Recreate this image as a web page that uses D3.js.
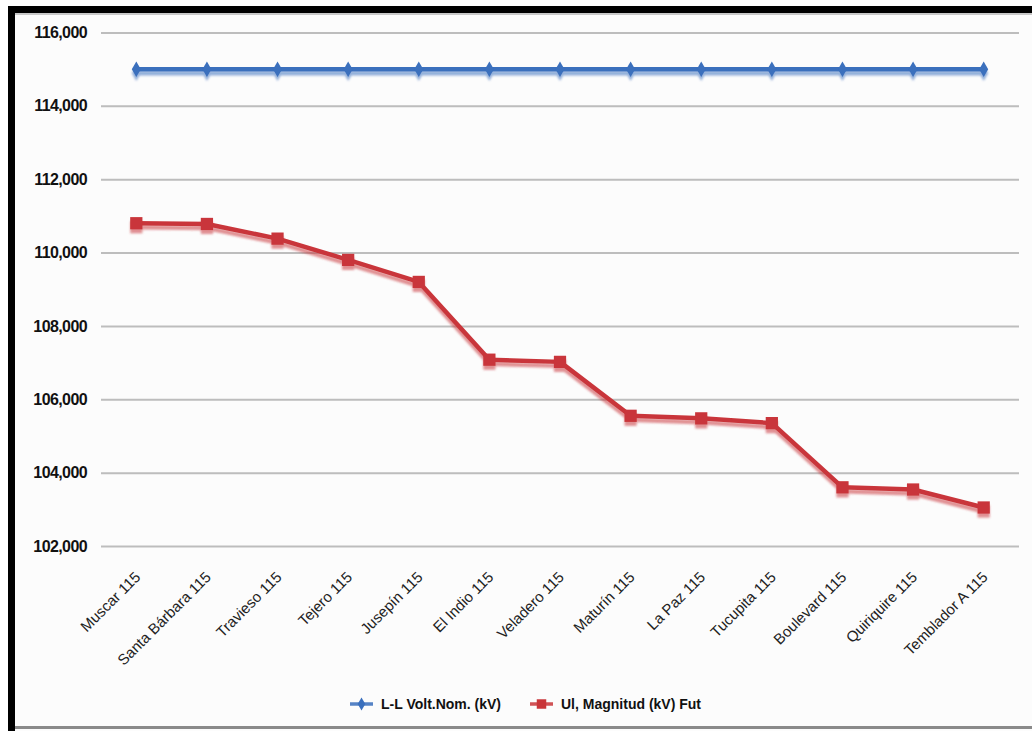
<!DOCTYPE html>
<html>
<head>
<meta charset="utf-8">
<script src="https://cdn.jsdelivr.net/npm/d3@7"></script>
<style>
  html, body { margin: 0; padding: 0; background: #ffffff; }
  svg { display: block; }
</style>
</head>
<body>
<svg id="chart" width="1032" height="731"></svg>
<script>
// Substations along the 115 kV corridor
const categories = [
  "Muscar 115", "Santa Bárbara 115", "Travieso 115", "Tejero 115", "Jusepín 115",
  "El Indio 115", "Veladero 115", "Maturín 115", "La Paz 115", "Tucupita 115",
  "Boulevard 115", "Quiriquire 115", "Temblador A 115"
];
// Nominal line-to-line voltage
const nominalKV = [115000, 115000, 115000, 115000, 115000, 115000, 115000,
                   115000, 115000, 115000, 115000, 115000, 115000];
// Future voltage magnitude
const futureKV = [110800, 110780, 110380, 109800, 109200, 107080, 107020,
                  105550, 105480, 105350, 103600, 103540, 103050];
const yTicks = [102000, 104000, 106000, 108000, 110000, 112000, 114000, 116000];
const seriesNames = ["L-L Volt.Nom. (kV)", "Ul, Magnitud (kV) Fut"];

const svg = d3.select("#chart");
const W = 1032, H = 731;

// Frame: panel with heavy dark border on top and left
svg.append("rect").attr("x", 8).attr("y", 6).attr("width", W - 8).attr("height", H - 6)
  .attr("fill", "#fcfcfc");
svg.append("rect").attr("x", 8).attr("y", 726).attr("width", W - 8).attr("height", 3)
  .attr("fill", "#8a8a8a");
svg.append("rect").attr("x", 15).attr("y", 13).attr("width", W - 15).attr("height", 2)
  .attr("fill", "#c8c8c8");
svg.append("rect").attr("x", 8).attr("y", 6).attr("width", W - 8).attr("height", 7)
  .attr("fill", "#000");
svg.append("rect").attr("x", 8).attr("y", 6).attr("width", 7).attr("height", H - 6)
  .attr("fill", "#000");

const plot = { left: 101, right: 1019, top: 32.5, bottom: 546 };

const x = d3.scaleBand().domain(categories).range([plot.left, plot.right]);
const y = d3.scaleLinear().domain([102000, 116000]).range([plot.bottom, plot.top]);
const cx = d => x(d) + x.bandwidth() / 2;

// Soft, coloured shadow offset below each series
const defs = svg.append("defs");
const f = defs.append("filter").attr("id", "shadow")
  .attr("x", "-10%").attr("y", "-30%").attr("width", "120%").attr("height", "180%");
f.append("feGaussianBlur").attr("in", "SourceGraphic").attr("stdDeviation", 1.3).attr("result", "b");
f.append("feOffset").attr("in", "b").attr("dx", 0).attr("dy", 4).attr("result", "o");
f.append("feComponentTransfer").attr("in", "o").attr("result", "s")
  .append("feFuncA").attr("type", "linear").attr("slope", 0.55);
const fm = f.append("feMerge");
fm.append("feMergeNode").attr("in", "s");
fm.append("feMergeNode").attr("in", "SourceGraphic");

// Gridlines and value labels
const yAxis = d3.axisLeft(y).tickValues(yTicks)
  .tickSize(-(plot.right - plot.left)).tickPadding(14)
  .tickFormat(d3.format(","));
const gy = svg.append("g").attr("transform", `translate(${plot.left},0)`).call(yAxis);
gy.select(".domain").remove();
gy.selectAll(".tick line").attr("stroke", "#bdbdbd").attr("stroke-width", 2);
gy.selectAll(".tick text")
  .attr("font-family", "'Liberation Sans', Arial, sans-serif")
  .attr("font-weight", "bold").attr("font-size", 16).attr("fill", "#111")
  .attr("letter-spacing", -0.6).attr("x", -14);

// Category labels, rotated
const xAxis = d3.axisBottom(x).tickSize(0).tickPadding(0);
const gx = svg.append("g").attr("transform", `translate(0,${plot.bottom})`).call(xAxis);
gx.select(".domain").remove();
gx.selectAll(".tick text")
  .attr("font-family", "'Liberation Sans', Arial, sans-serif")
  .attr("font-size", 15).attr("fill", "#222")
  .attr("text-anchor", "end").attr("dy", 0).attr("y", 0)
  .attr("transform", "translate(5,32) rotate(-45)");

const line = d3.line().x((d, i) => cx(categories[i])).y(d => y(d));

const series = [
  { name: seriesNames[0], values: nominalKV, color: "#3a6fbd", marker: "diamond" },
  { name: seriesNames[1], values: futureKV, color: "#c9363a", marker: "square" }
];

const symbolFor = m => m === "diamond"
  ? d3.symbol().type(d3.symbolDiamond).size(70)
  : d3.symbol().type(d3.symbolSquare).size(150);

series.forEach(s => {
  const g = svg.append("g").attr("filter", "url(#shadow)");
  g.append("path").datum(s.values).attr("d", line)
    .attr("fill", "none").attr("stroke", s.color).attr("stroke-width", 4.5)
    .attr("stroke-linejoin", "round");
  g.selectAll("path.m").data(s.values).join("path").attr("class", "m")
    .attr("transform", (d, i) => `translate(${cx(categories[i])},${y(d)})`)
    .attr("d", symbolFor(s.marker)())
    .attr("fill", s.color);
});

// Legend
const legendItems = [
  { s: series[0], x: 350 },
  { s: series[1], x: 530 }
];
const ly = 704;
legendItems.forEach(it => {
  const g = svg.append("g").attr("transform", `translate(${it.x},${ly})`);
  g.append("line").attr("x1", 0).attr("x2", 23).attr("y1", 0).attr("y2", 0)
    .attr("stroke", it.s.color).attr("stroke-width", 3.5).attr("opacity", 0.85);
  g.append("path").attr("transform", "translate(11.5,0)")
    .attr("d", (it.s.marker === "diamond"
      ? d3.symbol().type(d3.symbolDiamond).size(50)
      : d3.symbol().type(d3.symbolSquare).size(90))())
    .attr("fill", it.s.color);
  g.append("text").attr("x", 31).attr("y", 5)
    .attr("font-family", "'Liberation Sans Narrow', 'Liberation Sans', Arial, sans-serif")
    .attr("font-weight", "bold").attr("font-size", 14).attr("fill", "#111")
    .text(it.s.name);
});
</script>
</body>
</html>
